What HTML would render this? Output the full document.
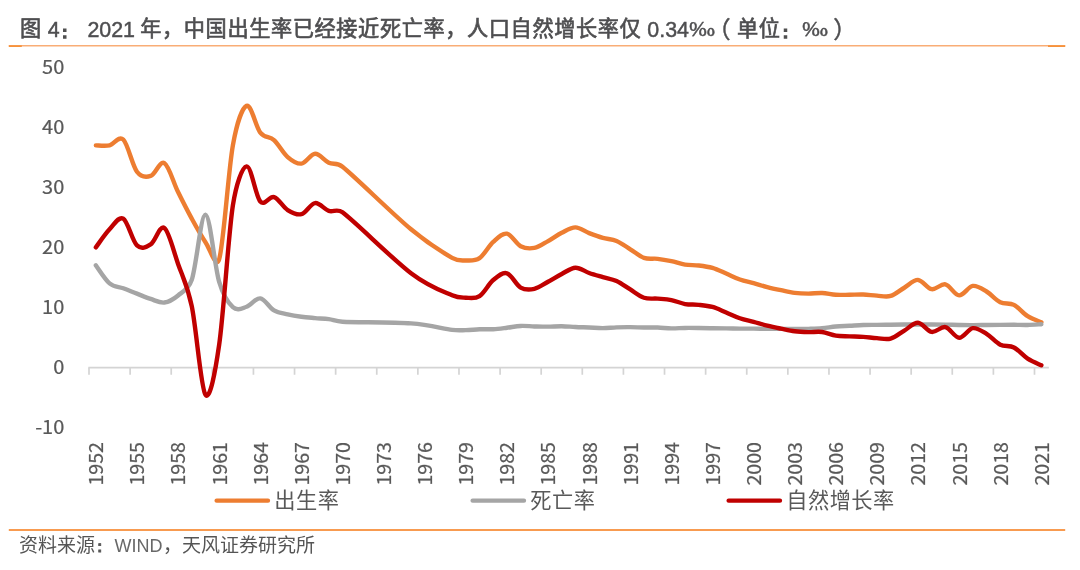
<!DOCTYPE html>
<html lang="zh-CN">
<head>
<meta charset="utf-8">
<title>图 4： 2021 年，中国出生率已经接近死亡率</title>
<style>
html,body{margin:0;padding:0;background:#fff;}
body{width:1080px;height:570px;position:relative;overflow:hidden;font-family:"Liberation Sans","Noto Sans CJK SC",sans-serif;}
.title{position:absolute;left:20px;top:12.3px;margin:0;font-size:21.2px;letter-spacing:0.6px;line-height:30px;font-weight:400;color:#4e4e50;white-space:nowrap;-webkit-text-stroke:0.65px #4e4e50;}
.title .n{font-size:21.4px;letter-spacing:0;position:relative;top:0.6px;-webkit-text-stroke:0.45px #4e4e50;}
.title .pm{letter-spacing:0;font-size:21.8px;-webkit-text-stroke:0.45px #4e4e50;font-family:"Noto Sans CJK SC","Liberation Sans",sans-serif;display:inline-block;transform:scale(1.2,0.83);transform-origin:0 78%;}
.c{font-family:"IPAGothic","Noto Sans CJK SC",sans-serif;font-weight:400;position:relative;}
.title .c{letter-spacing:0;left:-4.2px;top:2.6px;-webkit-text-stroke:1.3px #505050;display:inline-block;width:21.8px;font-size:18.5px;line-height:20px;}
.title .pr{letter-spacing:0;-webkit-text-stroke:0.45px #4e4e50;font-size:23.4px;line-height:20px;display:inline-block;width:21.8px;position:relative;top:1.3px;}
.src{position:absolute;left:18.9px;top:532.1px;margin:0;font-size:19px;line-height:28px;color:#555;white-space:nowrap;}
.src .c{left:-4.2px;top:0.8px;-webkit-text-stroke:0.7px #555;font-size:18px;display:inline-block;width:19px;line-height:20px;}
.src .w{font-size:18px;color:#686868;margin-left:0.6px;margin-right:0.6px;}
.chart{position:absolute;left:0;top:0;}
.chart text{font-family:"Noto Sans CJK SC","Liberation Sans",sans-serif;fill:#595959;}
.yl text,.xl text{font-size:20px;stroke:#595959;stroke-width:0.25px;}
.lg text{font-size:21.2px;letter-spacing:0.5px;}
</style>
</head>
<body>
<h1 class="title"><span id="t1">图<span class="n"> 4</span><b class="c">：</b></span><span id="t2" class="n"> 2021 </span><span id="t3" style="margin-left:-0.7px">年，中国出生率已经接近死亡率，人口自然增长率仅</span><span id="t4" class="n"> 0.34</span><span class="pm" id="t5" style="margin-left:0px;margin-right:1.2px">‰</span><span id="t6" class="pr" style="margin-left:-4.6px;margin-right:7.8px">（</span><span id="t6b">单位<b class="c">：</b></span><span class="pm" id="t7">‰</span><span id="t8" class="pr" style="margin-left:9px">）</span></h1>
<svg class="chart" width="1080" height="570" viewBox="0 0 1080 570">
<g stroke="#d4d4d4" stroke-width="1.7" fill="none">
<path d="M88.30 367.65H1048.90"/>
<path d="M89.00 367.65v7M130.11 367.65v7M171.22 367.65v7M212.33 367.65v7M253.43 367.65v7M294.54 367.65v7M335.65 367.65v7M376.76 367.65v7M417.87 367.65v7M458.98 367.65v7M500.09 367.65v7M541.19 367.65v7M582.30 367.65v7M623.41 367.65v7M664.52 367.65v7M705.63 367.65v7M746.74 367.65v7M787.85 367.65v7M828.95 367.65v7M870.06 367.65v7M911.17 367.65v7M952.28 367.65v7M993.39 367.65v7M1034.50 367.65v7"/>
</g>
<g fill="none" stroke-linecap="round" stroke-linejoin="round" stroke-width="4.4">
<path stroke="#ed7d31" d="M95.85 145.35C98.14 145.35 104.99 146.32 109.55 145.35C114.12 144.38 118.69 135.13 123.26 139.53C127.82 143.93 132.39 165.68 136.96 171.75C141.27 177.48 146.10 177.38 150.66 175.95C155.23 174.52 159.80 160.49 164.37 163.17C168.93 165.85 173.50 182.78 178.07 192.03C182.64 201.28 187.20 210.31 191.77 218.67C196.34 227.03 200.91 235.43 205.47 242.19C210.04 248.95 216.20 269.75 219.18 259.23C223.74 243.08 228.31 170.87 232.88 145.29C236.56 124.69 242.02 107.88 246.58 105.75C251.15 103.62 255.72 126.79 260.29 132.51C264.85 138.23 269.42 135.98 273.99 140.07C278.56 144.16 283.12 153.13 287.69 157.05C292.26 160.97 296.83 164.13 301.39 163.59C305.96 163.05 310.53 153.96 315.10 153.81C319.66 153.66 324.23 160.53 328.80 162.69C333.37 164.85 336.95 162.27 342.50 166.77C356.21 177.87 392.75 214.11 411.02 229.29C429.29 244.47 442.99 252.66 452.13 257.85C458.19 261.29 461.26 260.39 465.83 260.43C470.40 260.47 474.96 261.18 479.53 258.09C484.10 255.00 488.67 245.96 493.23 241.89C497.80 237.82 502.37 232.95 506.94 233.67C511.50 234.39 516.07 243.83 520.64 246.21C525.21 248.59 529.78 248.80 534.34 247.95C538.91 247.10 543.48 243.64 548.05 241.11C552.61 238.58 557.18 235.06 561.75 232.77C566.32 230.48 570.88 227.31 575.45 227.37C580.02 227.43 584.59 231.38 589.15 233.13C593.72 234.88 598.29 236.56 602.86 237.87C607.42 239.18 611.99 239.09 616.56 240.99C621.13 242.89 625.70 246.45 630.26 249.27C634.83 252.09 639.40 256.32 643.97 257.91C648.53 259.50 653.10 258.27 657.67 258.81C662.24 259.35 666.80 260.18 671.37 261.15C675.94 262.12 680.51 263.91 685.07 264.63C689.64 265.35 694.21 264.92 698.78 265.47C703.34 266.02 707.91 266.59 712.48 267.93C717.05 269.27 721.62 271.58 726.18 273.51C730.75 275.44 735.32 277.90 739.89 279.51C744.45 281.12 749.02 281.91 753.59 283.17C758.16 284.43 762.72 285.90 767.29 287.07C771.86 288.24 776.43 289.22 780.99 290.19C785.56 291.16 790.13 292.32 794.70 292.89C799.26 293.46 803.83 293.60 808.40 293.61C812.97 293.62 817.54 292.75 822.10 292.95C826.67 293.15 831.24 294.51 835.81 294.81C840.37 295.11 844.94 294.80 849.51 294.75C854.08 294.70 858.64 294.36 863.21 294.51C867.78 294.66 872.35 295.41 876.91 295.65C881.48 295.89 886.05 297.27 890.62 295.95C895.18 294.63 899.75 290.40 904.32 287.73C908.89 285.06 913.46 279.69 918.02 279.93C922.59 280.17 927.16 288.43 931.73 289.17C936.29 289.91 940.86 283.33 945.43 284.37C950.00 285.41 954.56 295.15 959.13 295.41C963.70 295.67 968.27 286.58 972.83 285.93C977.40 285.28 981.97 288.80 986.54 291.51C991.10 294.22 995.67 299.96 1000.24 302.19C1004.81 304.42 1009.38 302.55 1013.94 304.89C1018.51 307.23 1023.08 313.34 1027.65 316.23C1032.21 319.12 1039.06 321.23 1041.35 322.23"/>
<path stroke="#a5a5a5" d="M95.85 265.35C98.14 268.35 104.99 279.53 109.55 283.35C114.12 287.17 118.69 286.55 123.26 288.27C127.82 289.99 132.39 291.89 136.96 293.67C141.53 295.45 146.10 297.47 150.66 298.95C155.23 300.43 159.80 303.13 164.37 302.55C168.93 301.97 173.50 299.26 178.07 295.47C182.64 291.68 188.43 289.66 191.77 279.81C196.34 266.36 200.91 214.42 205.47 214.77C210.04 215.12 214.61 266.50 219.18 281.91C223.27 295.71 228.31 303.09 232.88 307.23C237.45 311.37 242.02 308.23 246.58 306.75C251.15 305.27 255.72 297.75 260.29 298.35C264.85 298.95 269.42 307.68 273.99 310.35C278.56 313.02 283.12 313.30 287.69 314.37C292.26 315.44 296.83 316.15 301.39 316.77C305.96 317.39 310.53 317.69 315.10 318.09C319.66 318.49 324.23 318.56 328.80 319.17C333.37 319.78 335.54 321.39 342.50 321.75C356.21 322.46 392.75 322.08 411.02 323.43C429.29 324.78 442.99 328.74 452.13 329.85C458.93 330.68 461.26 330.18 465.83 330.09C470.40 330.00 474.96 329.46 479.53 329.31C484.10 329.16 488.67 329.45 493.23 329.19C497.80 328.93 502.37 328.29 506.94 327.75C511.50 327.21 516.07 326.17 520.64 325.95C525.21 325.73 529.78 326.31 534.34 326.43C538.91 326.55 543.48 326.71 548.05 326.67C552.61 326.63 557.18 326.13 561.75 326.19C566.32 326.25 570.88 326.81 575.45 327.03C580.02 327.25 584.59 327.33 589.15 327.51C593.72 327.69 598.29 328.14 602.86 328.11C607.42 328.08 611.99 327.49 616.56 327.33C621.13 327.17 625.70 327.12 630.26 327.15C634.83 327.18 639.40 327.45 643.97 327.51C648.53 327.57 653.10 327.36 657.67 327.51C662.24 327.66 666.80 328.34 671.37 328.41C675.94 328.48 680.51 328.00 685.07 327.93C689.64 327.86 694.21 327.93 698.78 327.99C703.34 328.05 707.91 328.23 712.48 328.29C717.05 328.35 721.62 328.30 726.18 328.35C730.75 328.40 735.32 328.54 739.89 328.59C744.45 328.64 749.02 328.62 753.59 328.65C758.16 328.68 762.72 328.73 767.29 328.77C771.86 328.81 776.43 328.86 780.99 328.89C785.56 328.92 790.13 328.96 794.70 328.95C799.26 328.94 803.83 328.94 808.40 328.83C812.97 328.72 817.54 328.68 822.10 328.29C826.67 327.90 831.24 326.91 835.81 326.49C840.37 326.07 844.94 326.02 849.51 325.77C854.08 325.52 858.64 325.14 863.21 324.99C867.78 324.84 872.35 324.92 876.91 324.87C881.48 324.82 886.05 324.75 890.62 324.69C895.18 324.63 899.75 324.53 904.32 324.51C908.89 324.49 913.46 324.56 918.02 324.57C922.59 324.58 927.16 324.56 931.73 324.57C936.29 324.58 940.86 324.57 945.43 324.63C950.00 324.69 954.56 324.85 959.13 324.93C963.70 325.01 968.27 325.10 972.83 325.11C977.40 325.12 981.97 325.03 986.54 324.99C991.10 324.95 995.67 324.90 1000.24 324.87C1004.81 324.84 1009.38 324.80 1013.94 324.81C1018.51 324.82 1023.08 325.02 1027.65 324.93C1032.21 324.84 1039.06 324.38 1041.35 324.27"/>
<path stroke="#c00000" d="M95.85 247.35C98.14 244.35 104.99 234.14 109.55 229.35C114.12 224.56 118.69 215.93 123.26 218.61C127.82 221.29 132.39 241.14 136.96 245.43C141.53 249.72 146.10 247.26 150.66 244.35C155.23 241.44 159.80 224.71 164.37 227.97C168.93 231.23 173.50 250.87 178.07 263.91C182.64 276.95 187.21 284.45 191.77 306.21C196.34 328.02 200.91 388.36 205.47 394.77C210.04 401.18 215.46 370.37 219.18 344.67C223.74 313.11 228.31 235.13 232.88 205.41C236.02 184.95 242.02 167.00 246.58 166.35C251.15 165.70 255.72 196.39 260.29 201.51C264.85 206.63 269.42 195.65 273.99 197.07C278.56 198.49 283.12 207.18 287.69 210.03C292.26 212.88 296.83 215.33 301.39 214.17C305.96 213.01 310.53 203.62 315.10 203.07C319.66 202.52 324.23 209.32 328.80 210.87C333.37 212.42 337.01 208.21 342.50 212.37C356.21 222.76 392.75 259.38 411.02 273.21C429.29 287.04 442.99 291.27 452.13 295.35C458.47 298.18 461.26 297.56 465.83 297.69C470.40 297.82 474.96 299.07 479.53 296.13C484.10 293.19 488.67 283.86 493.23 280.05C497.80 276.24 502.37 272.01 506.94 273.27C511.50 274.53 516.07 285.01 520.64 287.61C525.21 290.21 529.78 289.84 534.34 288.87C538.91 287.90 543.48 284.28 548.05 281.79C552.61 279.30 557.18 276.28 561.75 273.93C566.32 271.58 570.88 267.85 575.45 267.69C580.02 267.53 584.59 271.40 589.15 272.97C593.72 274.54 598.29 275.77 602.86 277.11C607.42 278.45 611.99 278.95 616.56 281.01C621.13 283.07 625.70 286.68 630.26 289.47C634.83 292.26 639.40 296.22 643.97 297.75C648.53 299.28 653.10 298.26 657.67 298.65C662.24 299.04 666.80 299.19 671.37 300.09C675.94 300.99 680.51 303.26 685.07 304.05C689.64 304.84 694.21 304.34 698.78 304.83C703.34 305.32 707.91 305.71 712.48 306.99C717.05 308.27 721.62 310.63 726.18 312.51C730.75 314.39 735.32 316.71 739.89 318.27C744.45 319.83 749.02 320.64 753.59 321.87C758.16 323.10 762.72 324.52 767.29 325.65C771.86 326.78 776.43 327.71 780.99 328.65C785.56 329.59 790.13 330.71 794.70 331.29C799.26 331.87 803.83 332.01 808.40 332.13C812.97 332.25 817.54 331.42 822.10 332.01C826.67 332.60 831.24 334.95 835.81 335.67C840.37 336.39 844.94 336.13 849.51 336.33C854.08 336.53 858.64 336.57 863.21 336.87C867.78 337.17 872.35 337.84 876.91 338.13C881.48 338.42 886.05 339.87 890.62 338.61C895.18 337.35 899.75 333.21 904.32 330.57C908.89 327.93 913.46 322.54 918.02 322.77C922.59 323.00 927.16 331.23 931.73 331.95C936.29 332.67 940.86 326.12 945.43 327.09C950.00 328.06 954.56 337.59 959.13 337.77C963.70 337.95 968.27 328.82 972.83 328.17C977.40 327.52 981.97 331.12 986.54 333.87C991.10 336.62 995.67 342.41 1000.24 344.67C1004.81 346.93 1009.38 345.10 1013.94 347.43C1018.51 349.76 1023.08 355.67 1027.65 358.65C1032.21 361.63 1039.06 364.20 1041.35 365.31"/>
</g>
<g class="yl" text-anchor="end">
<text transform="translate(64.30 74.15) scale(1.000 0.920)">50</text>
<text transform="translate(64.30 134.15) scale(1.000 0.920)">40</text>
<text transform="translate(64.30 194.15) scale(1.000 0.920)">30</text>
<text transform="translate(64.30 254.15) scale(1.000 0.920)">20</text>
<text transform="translate(64.30 314.15) scale(1.000 0.920)">10</text>
<text transform="translate(64.30 374.15) scale(1.000 0.920)">0</text>
<text transform="translate(64.30 434.15) scale(1.000 0.920)">-10</text>
</g>
<g class="xl" text-anchor="end">
<text transform="translate(103.25 442.00) rotate(-90) scale(0.980 0.960)">1952</text>
<text transform="translate(144.36 442.00) rotate(-90) scale(0.980 0.960)">1955</text>
<text transform="translate(185.47 442.00) rotate(-90) scale(0.980 0.960)">1958</text>
<text transform="translate(226.58 442.00) rotate(-90) scale(0.980 0.960)">1961</text>
<text transform="translate(267.69 442.00) rotate(-90) scale(0.980 0.960)">1964</text>
<text transform="translate(308.79 442.00) rotate(-90) scale(0.980 0.960)">1967</text>
<text transform="translate(349.90 442.00) rotate(-90) scale(0.980 0.960)">1970</text>
<text transform="translate(391.01 442.00) rotate(-90) scale(0.980 0.960)">1973</text>
<text transform="translate(432.12 442.00) rotate(-90) scale(0.980 0.960)">1976</text>
<text transform="translate(473.23 442.00) rotate(-90) scale(0.980 0.960)">1979</text>
<text transform="translate(514.34 442.00) rotate(-90) scale(0.980 0.960)">1982</text>
<text transform="translate(555.45 442.00) rotate(-90) scale(0.980 0.960)">1985</text>
<text transform="translate(596.55 442.00) rotate(-90) scale(0.980 0.960)">1988</text>
<text transform="translate(637.66 442.00) rotate(-90) scale(0.980 0.960)">1991</text>
<text transform="translate(678.77 442.00) rotate(-90) scale(0.980 0.960)">1994</text>
<text transform="translate(719.88 442.00) rotate(-90) scale(0.980 0.960)">1997</text>
<text transform="translate(760.99 442.00) rotate(-90) scale(0.980 0.960)">2000</text>
<text transform="translate(802.10 442.00) rotate(-90) scale(0.980 0.960)">2003</text>
<text transform="translate(843.21 442.00) rotate(-90) scale(0.980 0.960)">2006</text>
<text transform="translate(884.31 442.00) rotate(-90) scale(0.980 0.960)">2009</text>
<text transform="translate(925.42 442.00) rotate(-90) scale(0.980 0.960)">2012</text>
<text transform="translate(966.53 442.00) rotate(-90) scale(0.980 0.960)">2015</text>
<text transform="translate(1007.64 442.00) rotate(-90) scale(0.980 0.960)">2018</text>
<text transform="translate(1048.75 442.00) rotate(-90) scale(0.980 0.960)">2021</text>
</g>
<g fill="none" stroke-linecap="round" stroke-width="4.3">
<path stroke="#ed7d31" d="M216.6 500.7H268"/>
<path stroke="#a5a5a5" d="M472.6 500.7H524"/>
<path stroke="#c00000" d="M728.6 500.7H780"/>
</g>
<g class="lg">
<text x="274.3" y="507.7">出生率</text>
<text x="530.3" y="507.7">死亡率</text>
<text x="786.3" y="507.7">自然增长率</text>
</g>
<g fill="none">
<path stroke="#f9ad76" stroke-width="1.6" d="M8.8 45.7H1065.2"/>
<path stroke="#f6923c" stroke-width="1.8" d="M8.8 46.1H21.8M1048 46.1H1065.2"/>
<path stroke="#f89b50" stroke-width="2" d="M8.8 530H1065.2"/>
</g>
</svg>
<p class="src">资料来源<b class="c">：</b><span class="w">WIND</span>，天风证券研究所</p>
</body>
</html>
